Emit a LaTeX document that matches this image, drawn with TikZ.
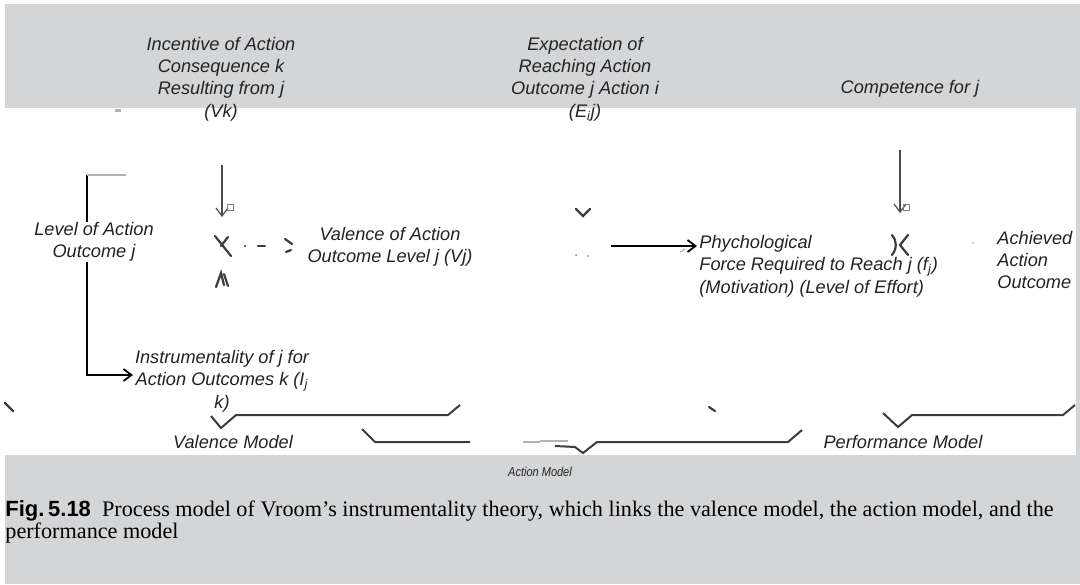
\documentclass[tikz,border=0pt]{standalone}
\usepackage{fontspec}
\setmainfont{Liberation Serif}
\setsansfont{Liberation Sans}
\usepackage{tikz}
\usetikzlibrary{arrows.meta,positioning,calc}

\definecolor{panelgray}{RGB}{212,213,215}
\definecolor{inkgray}{RGB}{60,60,60}
\definecolor{textgray}{RGB}{35,35,35}

\newcommand{\lblfont}{\sffamily\itshape\fontsize{9.1}{11.2}\selectfont}
\newcommand{\capfont}{\rmfamily\fontsize{11.1}{11}\selectfont}
\newcommand{\figfont}{\sffamily\bfseries\fontsize{11}{11}\selectfont}

\tikzset{
  lbl/.style={font=\lblfont, text=textgray, inner sep=0pt, align=center},
  lblleft/.style={lbl, align=left, anchor=west},
  conn/.style={line width=0.9pt, draw=black},
  stub/.style={line width=0.6pt, draw=gray!60},
  brc/.style={line width=1pt, draw=inkgray, line join=miter},
  tick/.style={line width=1.1pt, draw=inkgray, line cap=round},
  tip/.style={-{Straight Barb[length=4pt,width=6pt]}}
}

\begin{document}
\begin{tikzpicture}[x=0.5pt,y=-0.5pt]
        \useasboundingbox (0,0) rectangle (1080,584);
        % page and white panel
        \fill[panelgray] (5,4) rectangle (1080,584);
        \fill[white] (0,108) rectangle (1076,455);

        % upper labels
        \node[lbl] (incent) at (221,79) {Incentive of Action\\Consequence k\\Resulting from j\\(Vk)};
        \node[lbl] (expect) at (585,79) {Expectation of\\Reaching Action\\Outcome j Action i\\(E\textsubscript{i}j)};
        \node[lbl] (compet) at (910,89) {Competence for j};

        % middle labels
        \node[lbl] (level) at (94,242) {Level of Action\\Outcome j};
        \node[lbl] (valence) at (390,247) {Valence of Action\\Outcome Level j (Vj)};
        \node[lblleft] (force) at (699,266) {Phychological\\Force Required to Reach j (f\textsubscript{j})\\(Motivation) (Level of Effort)};
        \node[lblleft] (achieved) at (997,260) {Achieved\\Action\\Outcome};
        \node[lbl] (instr) at (222,381) {Instrumentality of j for\\Action Outcomes k (I\textsubscript{j}\\k)};

        % model names
        \node[lbl] (valmod) at (233,442) {Valence Model};
        \node[lbl] (perfmod) at (903,442) {Performance Model};
        \node[lbl, font=\sffamily\itshape\fontsize{6.4}{7}\selectfont, xscale=0.86, transform shape] (actmod) at (540,472) {Action Model};

        % caption
        \node[anchor=west, inner sep=0pt, font=\capfont, align=left] (caption) at (5,522)
            {{\figfont Fig.\,5.18}\enspace Process model of Vroom's instrumentality theory, which links the valence model, the action model, and the\\performance model};

        % free ends
        \coordinate (lvtop) at (87,175);
        \coordinate (instrin) at (133,375);
        \coordinate (vktop) at (222,165);
        \coordinate (vktip) at (222,217);
        \coordinate (cptop) at (900,150);
        \coordinate (cptip) at (900,213);
        \coordinate (ftail) at (611,246);
        \coordinate (ftip) at (697,246);

        % level of action outcome
        \draw[conn] (level.north -| lvtop) -- (lvtop);
        \draw[stub] (lvtop) -- ++(39,0);
        \draw[conn, tip] (level.south -| lvtop) |- (instrin);

        % incentive into the junction
        \draw[stub, tip, draw=black!70] (vktop) -- (vktip);
        \draw[line width=0.5pt, draw=gray] (227,204) rectangle (233,210);
        \draw[tick] (215,236) -- (231,256);
        \draw[tick] (228,237) -- (221,246);
        \fill[inkgray] (245,246) circle (1.2);
        \draw[tick] (258,246) -- (265,246);
        \draw[tick] (285,239) -- (292,244);
        \draw[tick] (286,252) -- (291,250);
        \draw[tick] (216,287) -- (221,273) -- (224,285);
        \draw[tick] (224,274) -- (228,286);

        % expectation into the force
        \draw[tick] (576,209) -- (583,216) -- (590,209);
        \fill[gray] (576,255) circle (1) (588,256) circle (1);
        \draw[conn, tip] (ftail) -- (ftip);
        \draw[stub] (680,252) -- (685,249);

        % competence into the outcome
        \draw[stub, tip, draw=black!70] (cptop) -- (cptip);
        \draw[line width=0.5pt, draw=gray] (903,204) rectangle (909,210);
        \draw[tick] (892,235) .. controls (897,240) and (897,249) .. (892,255);
        \draw[tick] (908,235) -- (900,245) -- (908,255);
        \fill[gray!60] (973,243) circle (1);

        % braces under the three models
        \draw[tick] (5,403) -- (13,411);
        \fill[gray!60] (115,109) rectangle (121,112);
        \draw[brc] (211,416) -- (221,428) -- (236,415) -- (448,415) -- (460,405);
        \draw[brc] (362,429) -- (375,442) -- (470,442);
        \draw[stub] (523,442) -- (540,442);
        \draw[stub] (540,441) -- (568,441);
        \draw[brc] (555,446) -- (575,447) -- (583,453) -- (597,442) -- (788,442) -- (802,430);
        \draw[tick] (709,407) -- (715,411);
        \draw[brc] (883,413) -- (898,427) -- (912,415) -- (1063,415) -- (1075,405);
\end{tikzpicture}
\end{document}
